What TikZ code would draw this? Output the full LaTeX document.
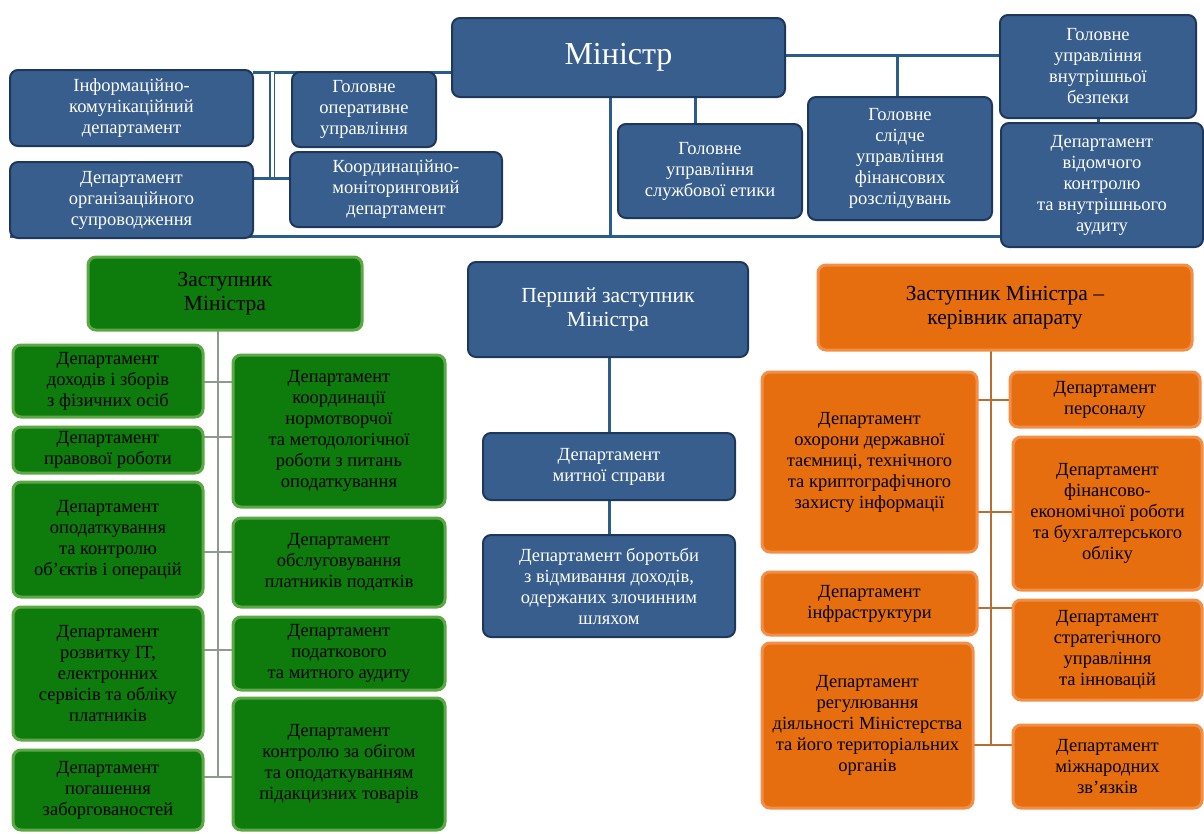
\documentclass[tikz,border=0pt]{standalone}
\usepackage{fontspec}
\setmainfont{Liberation Serif}
\usetikzlibrary{backgrounds}

\definecolor{bfill}{RGB}{56,94,142}
\definecolor{brim}{RGB}{30,56,92}
\definecolor{bline}{RGB}{42,92,140}
\definecolor{gfill}{RGB}{14,124,12}
\definecolor{grim}{RGB}{92,168,70}
\definecolor{gline}{RGB}{140,156,140}
\definecolor{ofill}{RGB}{230,110,14}
\definecolor{orim}{RGB}{242,142,72}
\definecolor{oline}{RGB}{184,110,50}

\tikzset{
  box/.style={rounded corners=8pt, align=center, inner sep=2pt, outer sep=0pt,
    font=\fontsize{18.5}{21}\selectfont},
  bluebox/.style={box, fill=bfill, draw=brim, line width=2pt, text=white},
  greenbox/.style={box, fill=gfill, draw=grim, line width=3pt, text=black},
  orangebox/.style={box, fill=ofill, draw=orim, line width=3pt, text=black},
  head/.style={font=\fontsize{21.5}{24}\selectfont},
  bconn/.style={draw=bline, line width=3pt},
  bdouble/.style={draw=bline, line width=1.6pt, double=white, double distance=3pt},
  gconn/.style={draw=gline, line width=2pt},
  oconn/.style={draw=oline, line width=2.5pt},
}

% \orgbox{name}{style}{x1}{y1}{x2}{y2}{text}: box given by its corners
\newcommand\orgbox[7]{%
  \node[#2, minimum width={(#5)-(#3)}, minimum height={(#6)-(#4)}]
    (#1) at ({((#3)+(#5))/2},{((#4)+(#6))/2}) {#7};}

\begin{document}
\begin{tikzpicture}[x=1pt, y=-1pt]
\useasboundingbox (0,0) rectangle (1204,833);

% ---- Minister and directly subordinated units ----
\orgbox{min}{bluebox, font=\fontsize{32}{36}\selectfont}{452}{18}{785}{97}{Міністр}
\orgbox{info}{bluebox}{10}{70}{253}{146}{Інформаційно-\\комунікаційний\\департамент}
\orgbox{oper}{bluebox}{292}{72}{436}{147}{Головне\\оперативне\\управління}
\orgbox{suprov}{bluebox}{10}{162}{253}{238}{Департамент\\організаційного\\супроводження}
\orgbox{koord}{bluebox}{290}{152}{502}{227}{Координаційно-\\моніторинговий\\департамент}
\orgbox{etyka}{bluebox}{618}{124}{802}{218}{Головне\\управління\\службової етики}
\orgbox{slidche}{bluebox}{808}{97}{992}{220}{Головне\\слідче\\управління\\фінансових\\розслідувань}
\orgbox{bezpeka}{bluebox}{1000}{15}{1196}{118}{Головне\\управління\\внутрішньої\\безпеки}
\orgbox{audyt}{bluebox}{1001}{123}{1203}{247}{Департамент\\відомчого\\контролю\\та внутрішнього\\аудиту}

% ---- First deputy ----
\orgbox{pz}{bluebox, head}{468}{262}{748}{357}{Перший заступник\\Міністра}
\orgbox{mytna}{bluebox}{483}{433}{735}{500}{Департамент\\митної справи}
\orgbox{borotba}{bluebox}{483}{535}{735}{637}{Департамент боротьби\\з відмивання доходів,\\одержаних злочинним\\шляхом}

% ---- Deputy (green branch) ----
\orgbox{zg}{greenbox, head}{88}{257}{362}{330}{Заступник\\Міністра}
\orgbox{g1}{greenbox}{13}{345}{203}{417}{Департамент\\доходів і зборів\\з фізичних осіб}
\orgbox{g2}{greenbox}{13}{427}{203}{473}{Департамент\\правової роботи}
\orgbox{g3}{greenbox}{13}{482}{203}{597}{Департамент\\оподаткування\\та контролю\\об’єктів і операцій}
\orgbox{g4}{greenbox}{13}{607}{203}{740}{Департамент\\розвитку IT,\\електронних\\сервісів та обліку\\платників}
\orgbox{g5}{greenbox}{13}{750}{203}{830}{Департамент\\погашення\\заборгованостей}
\orgbox{g6}{greenbox}{233}{355}{445}{507}{Департамент\\координації\\нормотворчої\\та методологічної\\роботи з питань\\оподаткування}
\orgbox{g7}{greenbox}{233}{518}{445}{607}{Департамент\\обслуговування\\платників податків}
\orgbox{g8}{greenbox}{233}{617}{445}{690}{Департамент\\податкового\\та митного аудиту}
\orgbox{g9}{greenbox}{233}{698}{445}{830}{Департамент\\контролю за обігом\\та оподаткуванням\\підакцизних товарів}

% ---- Deputy, head of staff (orange branch) ----
\orgbox{zo}{orangebox, head}{818}{265}{1192}{350}{Заступник Міністра –\\керівник апарату}
\orgbox{o1}{orangebox}{762}{372}{977}{552}{Департамент\\охорони державної\\таємниці, технічного\\та криптографічного\\захисту інформації}
\orgbox{o2}{orangebox}{762}{572}{977}{635}{Департамент\\інфраструктури}
\orgbox{o3}{orangebox}{762}{643}{973}{808}{Департамент\\регулювання\\діяльності Міністерства\\та його територіальних\\органів}
\orgbox{o4}{orangebox}{1010}{372}{1200}{427}{Департамент\\персоналу}
\orgbox{o5}{orangebox}{1013}{437}{1202}{590}{Департамент\\фінансово-\\економічної роботи\\та бухгалтерського\\обліку}
\orgbox{o6}{orangebox}{1013}{600}{1202}{700}{Департамент\\стратегічного\\управління\\та інновацій}
\orgbox{o7}{orangebox}{1013}{725}{1202}{808}{Департамент\\міжнародних\\зв’язків}

% ---- connectors, kept behind the boxes ----
\coordinate (lt) at (272,72);
\coordinate (lb) at (272,178);
\coordinate (rt) at (897,55);
\coordinate (ev) at (695,97);
\coordinate (bot) at (610,236);
\coordinate (gs) at (218,777);
\coordinate (gy1) at (218,382);
\coordinate (gy2) at (218,437);
\coordinate (gy3) at (218,552);
\coordinate (gy4) at (218,650);
\coordinate (os) at (991,745);
\coordinate (oy1) at (991,400);
\coordinate (oy2) at (991,512);
\coordinate (oy3) at (991,608);

\begin{pgfonlayer}{background}
  % Minister's staff units
  \draw[bconn] (lt -| info.east) -- (lt -| min.west);
  \draw[bdouble] (lt) -- (lb);
  \draw[bconn] (lb -| suprov.east) -- (lb -| koord.west);
  \draw[bconn] (rt -| min.east) -- (rt -| bezpeka.west);
  \draw[bconn] (rt) -- (rt |- slidche.north);
  \draw[bconn] (ev) -- (ev |- etyka.north);
  \draw[bconn] (bot |- min.south) -- (bot);
  \draw[bconn] (bot -| suprov.west) -- (bot -| audyt.east);
  \draw[bconn] (bezpeka.south) -- (bezpeka.south |- audyt.north);
  % first deputy
  \draw[bconn] (pz.south -| mytna.north) -- (mytna.north);
  \draw[bconn] (mytna.south) -- (borotba.north);
  % green branch
  \draw[gconn] (gs |- zg.south) -- (gs);
  \draw[gconn] (gy1 -| g1.east) -- (gy1 -| g6.west);
  \draw[gconn] (gy2 -| g2.east) -- (gy2 -| g6.west);
  \draw[gconn] (gy3 -| g3.east) -- (gy3 -| g7.west);
  \draw[gconn] (gy4 -| g4.east) -- (gy4 -| g8.west);
  \draw[gconn] (gs -| g5.east) -- (gs -| g9.west);
  % orange branch
  \draw[oconn] (os |- zo.south) -- (os);
  \draw[oconn] (oy1 -| o1.east) -- (oy1 -| o4.west);
  \draw[oconn] (oy2 -| o1.east) -- (oy2 -| o5.west);
  \draw[oconn] (oy3 -| o2.east) -- (oy3 -| o6.west);
  \draw[oconn] (os -| o3.east) -- (os -| o7.west);
\end{pgfonlayer}
\end{tikzpicture}
\end{document}
